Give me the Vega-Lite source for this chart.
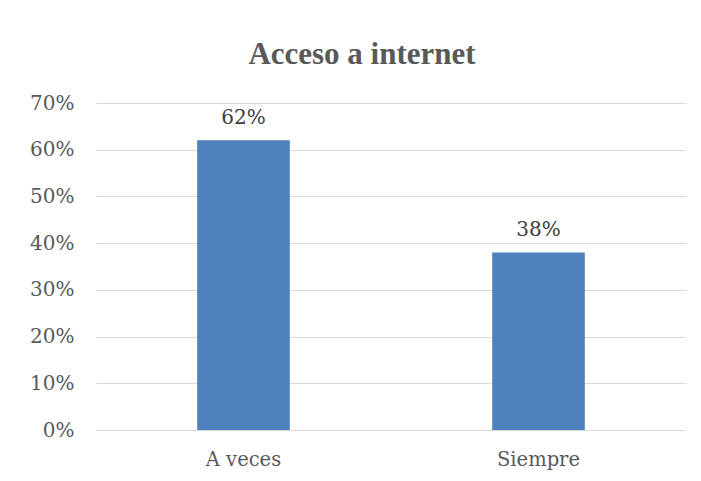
{
  "$schema": "https://vega.github.io/schema/vega-lite/v6.json",
  "autosize": {"type": "none"},
  "padding": {"left": 96, "top": 103, "right": 15, "bottom": 51},
  "width": 590,
  "height": 327,
  "background": "white",
  "title": {
    "text": "Acceso a internet",
    "font": "Liberation Serif",
    "fontSize": 31,
    "fontWeight": "bold",
    "color": "#595959",
    "anchor": "middle",
    "dx": -29,
    "offset": 22
  },
  "data": {
    "values": [
      {"categoria": "A veces", "porcentaje": 0.62},
      {"categoria": "Siempre", "porcentaje": 0.38}
    ]
  },
  "encoding": {
    "x": {
      "field": "categoria",
      "type": "nominal",
      "sort": null,
      "scale": {"paddingInner": 0, "paddingOuter": 0},
      "axis": {
        "title": null,
        "labelAngle": 0,
        "labelFont": "DejaVu Serif",
        "labelFontSize": 19.5,
        "labelColor": "#595959",
        "labelPadding": 20,
        "ticks": false,
        "domain": false,
        "grid": false
      }
    },
    "y": {
      "field": "porcentaje",
      "type": "quantitative",
      "scale": {"domain": [0, 0.7], "nice": false},
      "axis": {
        "title": null,
        "format": ".0%",
        "values": [0, 0.1, 0.2, 0.3, 0.4, 0.5, 0.6, 0.7],
        "labelFont": "DejaVu Serif",
        "labelFontSize": 20,
        "labelColor": "#595959",
        "labelPadding": 22,
        "ticks": false,
        "domain": false,
        "grid": true,
        "gridColor": "#D9D9D9",
        "gridWidth": 1.2
      }
    }
  },
  "layer": [
    {
      "mark": {"type": "bar", "color": "#4F81BD", "width": {"band": 0.314}}
    },
    {
      "mark": {
        "type": "text",
        "font": "DejaVu Serif",
        "fontSize": 20,
        "color": "#404040",
        "baseline": "alphabetic",
        "dy": -16
      },
      "encoding": {
        "text": {"field": "porcentaje", "type": "quantitative", "format": ".0%"}
      }
    }
  ],
  "config": {"view": {"stroke": null}}
}
